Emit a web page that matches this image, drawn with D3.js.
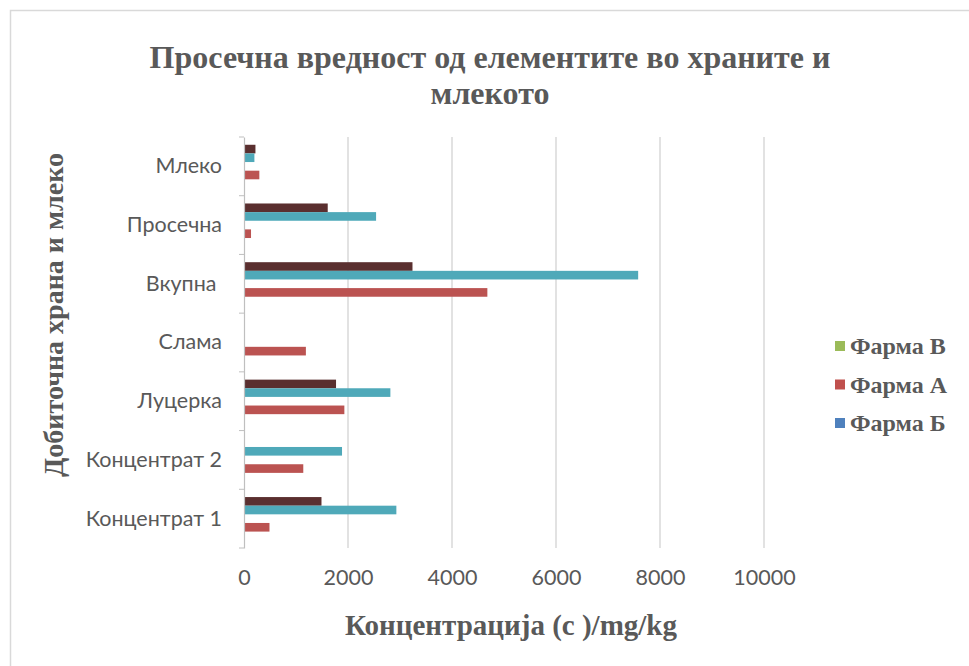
<!DOCTYPE html>
<html>
<head>
<meta charset="utf-8">
<script src="https://cdn.jsdelivr.net/npm/d3@7"></script>
<style>
  html, body { margin: 0; padding: 0; background: #fff; }
  svg { display: block; }
  svg text { white-space: pre; }
</style>
</head>
<body>
<script>
// ---- data ----
const categories = ["Концентрат 1", "Концентрат 2", "Луцерка", "Слама", "Вкупна ", "Просечна", "Млеко"];
const farmaA = [490, 1140, 1930, 1190, 4680, 135, 295];   // red bars (bottom)
const farmaB = [2930, 1885, 2815, 0, 7580, 2540, 200];    // teal bars
const farmaV = [1490, 0, 1770, 0, 3240, 1610, 220];       // dark bars (top)
const xTicks = [0, 2000, 4000, 6000, 8000, 10000];
const legendNames = ["Фарма В", "Фарма А", "Фарма Б"];
const legendColors = ["#9bbb59", "#c0504d", "#4f81bd"];
const titleLines = ["Просечна вредност од елементите во храните и", "млекото"];
const xTitle = "Концентрација (c )/mg/kg";
const yTitle = "Добиточна храна и млеко";

// slot order inside a category band, top to bottom
const slotKeys = ["V", "B", "empty1", "A", "empty2"];
const seriesList = [
  { key: "V", values: farmaV, color: "#5a2f2f" },
  { key: "B", values: farmaB, color: "#4fa9b9" },
  { key: "A", values: farmaA, color: "#bb5351" }
];

const W = 969, H = 666;
const svg = d3.select("body").append("svg").attr("width", W).attr("height", H);
svg.append("rect").attr("width", W).attr("height", H).attr("fill", "#fff");

// frame (only top/left visible in picture)
svg.append("rect").attr("x", 10.5).attr("y", 10.5).attr("width", 1000).attr("height", 1000)
  .attr("fill", "none").attr("stroke", "#d9d9d9").attr("stroke-width", 1.5);

const plot = { left: 244, right: 764, top: 137, bottom: 548 };

const x = d3.scaleLinear().domain([0, 10000]).range([plot.left, plot.right]);
const y = d3.scaleBand().domain(categories).range([plot.bottom, plot.top]).padding(0);
const ys = d3.scaleBand().domain(slotKeys).range([0, y.bandwidth()]).paddingInner(0).paddingOuter(0.9);

// gridlines
svg.append("g").selectAll("line").data(xTicks.filter(d => d > 0)).join("line")
  .attr("x1", d => x(d)).attr("x2", d => x(d))
  .attr("y1", plot.top).attr("y2", plot.bottom)
  .attr("stroke", "#d9d9d9").attr("stroke-width", 1.5);

// bars
seriesList.forEach(s => {
  svg.append("g").selectAll("rect").data(categories.map((c, i) => ({ c, v: s.values[i] })))
    .join("rect")
    .attr("x", x(0))
    .attr("y", d => y(d.c) + ys(s.key))
    .attr("width", d => x(d.v) - x(0))
    .attr("height", ys.bandwidth())
    .attr("fill", s.color);
});

// left axis
const yAxis = d3.axisLeft(y).tickSize(0).tickPadding(22);
const gy = svg.append("g").attr("transform", `translate(${plot.left},0)`).call(yAxis);
gy.select(".domain").attr("stroke", "#bfbfbf").attr("stroke-width", 1.2);
gy.selectAll("text").attr("font-family", "Lato, 'Open Sans', sans-serif").attr("font-size", 21.5)
  .attr("fill", "#595959");
// tick marks at band boundaries
const bounds = categories.map(c => y(c)).concat([plot.bottom]);
gy.selectAll("line.bnd").data(bounds).join("line").attr("class", "bnd")
  .attr("x1", -5).attr("x2", 0).attr("y1", d => d).attr("y2", d => d)
  .attr("stroke", "#bfbfbf").attr("stroke-width", 1);

// bottom axis labels (no line)
const xAxis = d3.axisBottom(x).tickValues(xTicks).tickSize(0).tickPadding(22).tickFormat(d3.format("d"));
const gx = svg.append("g").attr("transform", `translate(0,${plot.bottom})`).call(xAxis);
gx.select(".domain").remove();
gx.selectAll("text").attr("font-family", "Lato, 'Open Sans', sans-serif").attr("font-size", 21.5)
  .attr("fill", "#595959");

// titles
const serif = "'Liberation Serif', 'Times New Roman', serif";
svg.append("g").selectAll("text").data(titleLines).join("text")
  .attr("x", 490).attr("y", (d, i) => 68 + i * 36)
  .attr("text-anchor", "middle").attr("font-family", serif).attr("font-weight", "bold")
  .attr("font-size", 32).attr("fill", "#595959").text(d => d);

svg.append("text").attr("x", 511).attr("y", 635).attr("text-anchor", "middle")
  .attr("font-family", serif).attr("font-weight", "bold").attr("font-size", 29)
  .attr("fill", "#595959").text(xTitle);

svg.append("text").attr("transform", "translate(63,315) rotate(-90)").attr("text-anchor", "middle")
  .attr("font-family", serif).attr("font-weight", "bold").attr("font-size", 28)
  .attr("fill", "#595959").text(yTitle);

// legend
const lg = svg.append("g");
legendNames.forEach((n, i) => {
  const cy = 346 + i * 38.5;
  lg.append("rect").attr("x", 835).attr("y", cy - 5).attr("width", 10).attr("height", 10)
    .attr("fill", legendColors[i]);
  lg.append("text").attr("x", 850).attr("y", cy + 8).attr("font-family", serif)
    .attr("font-weight", "bold").attr("font-size", 24).attr("fill", "#595959").text(n);
});
</script>
</body>
</html>
